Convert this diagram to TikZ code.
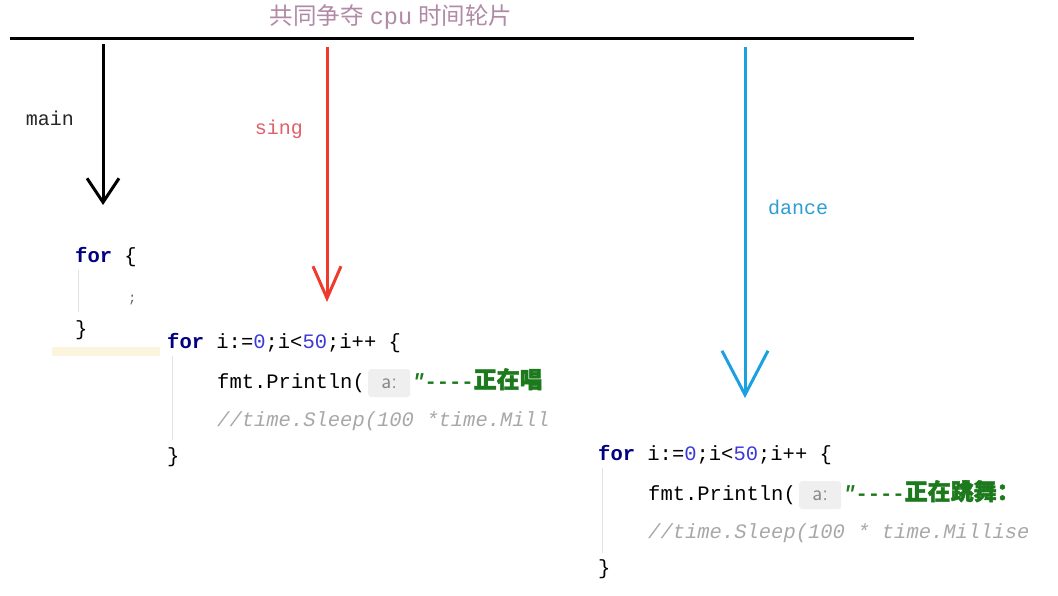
\documentclass[tikz,border=0pt]{standalone}
\usepackage{fontspec}
\setmainfont{Liberation Serif}
\setmonofont{Liberation Mono}
\newfontfamily\cjk{Noto Sans CJK SC}
\newfontfamily\cjkb[FakeBold=2]{Noto Sans CJK SC}
\usetikzlibrary{arrows.meta}
\definecolor{titlec}{HTML}{B08AA6}
\definecolor{redc}{HTML}{EE3B2E}
\definecolor{singc}{HTML}{E0606C}
\definecolor{bluec}{HTML}{1BA0E0}
\definecolor{dancec}{HTML}{2C9ED4}
\definecolor{kw}{HTML}{000080}
\definecolor{num}{HTML}{3A3AD8}
\definecolor{strc}{HTML}{1C7A1C}
\definecolor{cmt}{HTML}{A8A8A8}
\definecolor{guide}{HTML}{E2E2E2}
\definecolor{hintbg}{HTML}{EFEFEF}
\definecolor{hintfg}{HTML}{8A8A8A}
\definecolor{hl}{HTML}{FBF5DE}
\newcommand{\kwd}[1]{\textcolor{kw}{\bfseries #1}}
\newcommand{\nm}[1]{\textcolor{num}{#1}}
\begin{document}
\begin{tikzpicture}[x=1pt,y=-1pt,
  code/.style={inner sep=0pt,anchor=base west,font=\ttfamily\fontsize{20.5}{24}\selectfont},
  lbl/.style={inner sep=0pt,font=\ttfamily\fontsize{20}{24}\selectfont},
  cmtline/.style={code,text=cmt,font=\ttfamily\itshape\fontsize{20.5}{24}\selectfont},
  hint/.style={inner sep=0pt,anchor=base west,fill=hintbg,rounded corners=3pt,text=hintfg,
    minimum width=42pt,minimum height=28pt,text depth=0pt,font=\sffamily\fontsize{22}{24}\selectfont},
  str/.style={code,text=strc},
  guideline/.style={draw=guide,line width=1pt},
  thread/.style={line width=3pt},
]
\useasboundingbox (0,0) rectangle (1058,596);
\fill[white] (0,0) rectangle (1058,596);

% title and bar
\node[inner sep=0pt,text=titlec,font=\fontsize{23.5}{26}\selectfont] (title) at (391,17)
  {{\cjk 共同争夺}\ {\ttfamily cpu}\ {\cjk 时间轮片}};
\coordinate (barL) at (10,39);
\coordinate (barR) at (914,39);
\draw[line width=3pt] (barL) -- (barR);

% thread arrows
\coordinate (mainS) at (103,44);
\coordinate (mainE) at (103,205);
\coordinate (singS) at (327,47);
\coordinate (singE) at (327,302);
\coordinate (danceS) at (745,47);
\coordinate (danceE) at (745,398);
\draw[thread,black,-{Straight Barb[length=24pt,width=32pt,line width=3pt]}] (mainS) -- (mainE);
\draw[thread,redc,-{Straight Barb[length=32pt,width=28pt,line width=3pt]}] (singS) -- (singE);
\draw[thread,bluec,-{Straight Barb[length=44pt,width=46pt,line width=3pt]}] (danceS) -- (danceE);

\node[lbl,text=black!85] (mainL) at (50,118) {main};
\node[lbl,text=singc] (singL) at (279,129) {sing};
\node[lbl,text=dancec] (danceL) at (798,207) {dance};

% block 1 (main)
\fill[hl] (52,347) rectangle (160,356);
\draw[guideline] (78,270) -- (78,312);
\node[code] (m1) at (75,262) {\kwd{for} \{};
\node[code,text=black!60,font=\ttfamily\fontsize{14}{16}\selectfont] (m2) at (128,302) {;};
\node[code] (m3) at (75,335) {\}};

% block 2 (sing)
\draw[guideline] (172,356) -- (172,440);
\node[code] (s1) at (167,348) {\kwd{for} i:=\nm{0};i<\nm{50};i++ \{};
\begin{scope}
\clip (160,360) rectangle (551,440);
\node[code] (s2) at (217,388) {fmt.Println(};
\node[hint] (s2h) at (368,388) {a:};
\node[str] (s2s) at (412,388) {\bfseries\itshape"\upshape----{\cjkb\fontsize{23}{24}\selectfont 正在唱}};
\node[cmtline] (s3) at (217,426) {//time.Sleep(100 *time.Mill};
\end{scope}
\node[code] (s4) at (167,462) {\}};

% block 3 (dance)
\draw[guideline] (602,468) -- (602,553);
\node[code] (d1) at (598,460) {\kwd{for} i:=\nm{0};i<\nm{50};i++ \{};
\begin{scope}
\clip (590,472) rectangle (1027,552);
\node[code] (d2) at (648,500) {fmt.Println(};
\node[hint] (d2h) at (799,500) {a:};
\node[str] (d2s) at (843,500) {\bfseries\itshape"\upshape----{\cjkb\fontsize{23}{24}\selectfont 正在跳舞：}};
\node[cmtline] (d3) at (648,538) {//time.Sleep(100 * time.Millise};
\end{scope}
\node[code] (d4) at (598,574) {\}};
\end{tikzpicture}
\end{document}
